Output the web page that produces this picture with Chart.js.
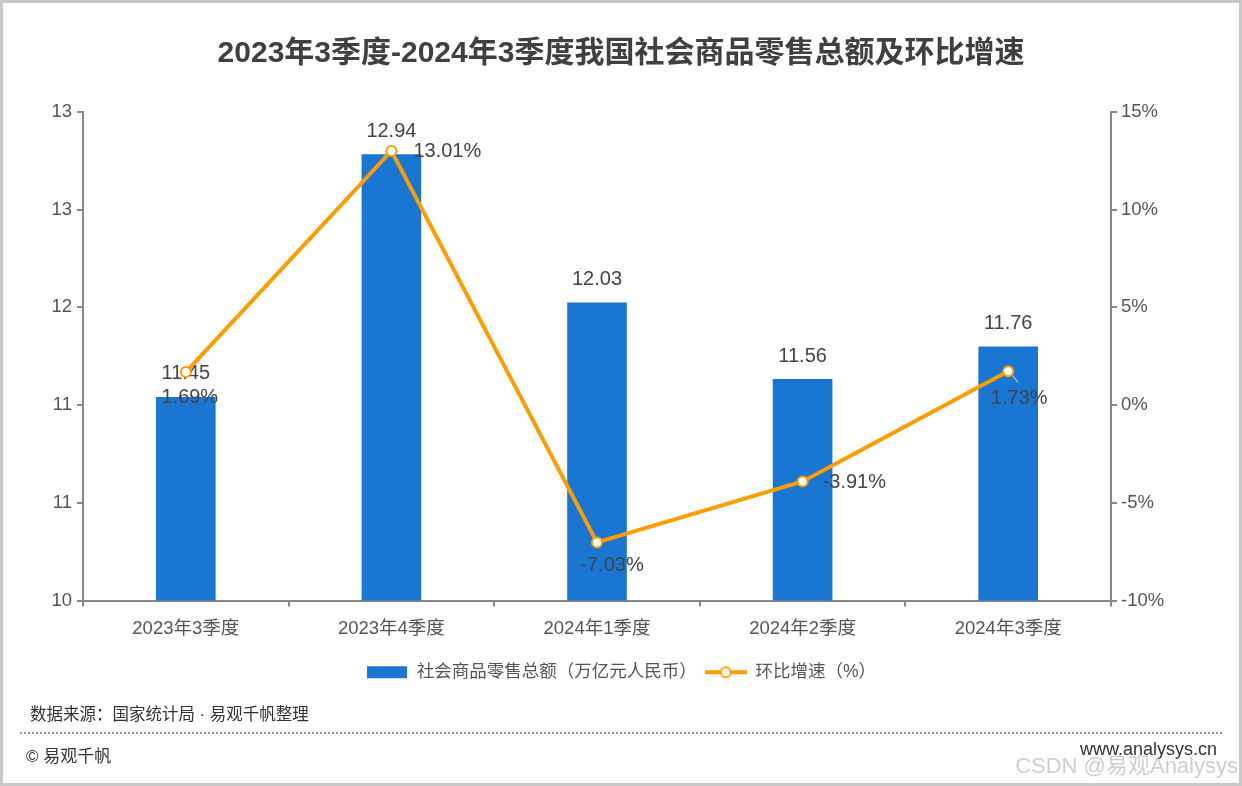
<!DOCTYPE html>
<html>
<head>
<meta charset="utf-8">
<script src="https://cdn.jsdelivr.net/npm/chart.js@4.4.1/dist/chart.umd.min.js"></script>
<style>
    html, body { margin: 0; padding: 0; background: #fff; }
    #wrap { position: relative; width: 1242px; height: 786px; overflow: hidden;
            font-family: "Liberation Sans", "Noto Sans CJK SC", sans-serif; }
    #frame { position: absolute; left: 0; top: 0; width: 1242px; height: 786px;
             box-sizing: border-box; border: 3px solid #c8c8c8; pointer-events: none; }
    canvas { position: absolute; left: 0; top: 0; }
    .note { position: absolute; color: #333; font-size: 16.5px; white-space: nowrap; }
    #dots { position: absolute; left: 20px; right: 20px; top: 732px; border-top: 2px dotted #999; }
    #mark { position: absolute; right: 4px; top: 747px; font-size: 22px; color: rgba(190,190,190,0.75); white-space: nowrap; }
</style>
</head>
<body>
<div id="wrap">
    <canvas id="retail-chart" width="1242" height="786"></canvas>
    <div class="note" style="left:30px; top:701px;">数据来源：国家统计局 · 易观千帆整理</div>
    <div id="dots"></div>
    <div class="note" style="left:26px; top:742px; font-size:17px;">© 易观千帆</div>
    <div class="note" style="right:25px; top:739px; font-size:18px;">www.analysys.cn</div>
    <div id="mark">CSDN @易观Analysys</div>
    <div id="frame"></div>
</div>
<script>
// Data
const quarters = ['2023年3季度', '2023年4季度', '2024年1季度', '2024年2季度', '2024年3季度'];
const retailTotals = [11.45, 12.94, 12.03, 11.56, 11.76];   // 万亿元人民币
const qoqGrowth = [1.69, 13.01, -7.03, -3.91, 1.73];        // %
const leftTickValues = [10.2, 10.8, 11.4, 12.0, 12.6, 13.2];
const leftTickLabels = ['10', '11', '11', '12', '13', '13'];

const BAR_COLOR = '#1976d2';
const LINE_COLOR = '#ff9c00';
const AXIS_COLOR = '#888888';
const FONT = '"Liberation Sans", "Noto Sans CJK SC", sans-serif';

// where each growth label sits relative to its point (style only)
const growthLabelPlacement = [
    { dx: 4, dy: 25, align: 'center' },
    { dx: 22, dy: 1, align: 'left' },
    { dx: 15, dy: 23, align: 'center' },
    { dx: 20, dy: 1, align: 'left' },
    { dx: 11, dy: 27, align: 'center', leader: true }
];

// Legend swatches drawn on small canvases
function makeSwatch(kind) {
    const c = document.createElement('canvas');
    c.width = 42; c.height = 14;
    const g = c.getContext('2d');
    if (kind === 'bar') {
        g.fillStyle = BAR_COLOR;
        g.fillRect(1, 1, 40, 12);
    } else {
        g.strokeStyle = LINE_COLOR;
        g.lineWidth = 4;
        g.beginPath(); g.moveTo(0, 7); g.lineTo(42, 7); g.stroke();
        g.fillStyle = '#fff';
        g.lineWidth = 2;
        g.beginPath(); g.arc(21, 7, 5, 0, Math.PI * 2); g.fill(); g.stroke();
    }
    return c;
}

const valueLabels = {
    id: 'valueLabels',
    afterDatasetDraw(chart, args) {
        // bar totals go under the line
        if (args.index !== 0) return;
        const ctx = chart.ctx;
        ctx.save();
        ctx.font = '20px ' + FONT;
        ctx.fillStyle = '#444';
        ctx.textAlign = 'center';
        ctx.textBaseline = 'middle';
        chart.getDatasetMeta(0).data.forEach((bar, i) => {
            ctx.fillText(retailTotals[i].toFixed(2), bar.x, bar.y - 23);
        });
        ctx.restore();
    },
    afterDatasetsDraw(chart) {
        const ctx = chart.ctx;
        ctx.save();
        ctx.font = '20px ' + FONT;
        ctx.fillStyle = '#444';
        ctx.textBaseline = 'middle';
        chart.getDatasetMeta(1).data.forEach((pt, i) => {
            const p = growthLabelPlacement[i];
            if (p.leader) {
                ctx.strokeStyle = '#aaa';
                ctx.lineWidth = 1.5;
                ctx.beginPath();
                ctx.moveTo(pt.x + 3, pt.y + 3);
                ctx.lineTo(pt.x + 10, pt.y + 11);
                ctx.stroke();
            }
            ctx.textAlign = p.align;
            ctx.fillText(qoqGrowth[i].toFixed(2) + '%', pt.x + p.dx, pt.y + p.dy);
        });
        ctx.restore();
    }
};

const ctx = document.getElementById('retail-chart').getContext('2d');

new Chart(ctx, {
    type: 'bar',
    data: {
        labels: quarters,
        datasets: [
            {
                label: '社会商品零售总额（万亿元人民币）',
                data: retailTotals,
                backgroundColor: BAR_COLOR,
                yAxisID: 'y',
                order: 2,
                barPercentage: 0.58,
                categoryPercentage: 0.5
            },
            {
                type: 'line',
                label: '环比增速（%）',
                data: qoqGrowth,
                borderColor: LINE_COLOR,
                backgroundColor: '#fff',
                borderWidth: 4,
                pointRadius: 5,
                pointBorderWidth: 2,
                pointBackgroundColor: '#fff',
                pointBorderColor: LINE_COLOR,
                tension: 0,
                yAxisID: 'y1',
                order: 1
            }
        ]
    },
    options: {
        responsive: false,
        animation: false,
        layout: { padding: { top: 0, left: 0, right: 0, bottom: 95 } },
        scales: {
            x: {
                grid: { display: true, drawOnChartArea: false, color: AXIS_COLOR, lineWidth: 2, tickLength: 6 },
                border: { color: AXIS_COLOR, width: 2 },
                ticks: { color: '#555', font: { size: 18.5, family: FONT }, padding: 11 },
                afterFit(scale) { scale.height = 55; }
            },
            y: {
                position: 'left',
                min: 10.2,
                max: 13.2,
                afterBuildTicks(scale) {
                    scale.ticks = leftTickValues.map(v => ({ value: v }));
                },
                grid: { display: true, drawOnChartArea: false, color: AXIS_COLOR, lineWidth: 2, tickLength: 6 },
                border: { color: AXIS_COLOR, width: 2 },
                ticks: {
                    color: '#555',
                    font: { size: 18.5, family: FONT },
                    padding: 5,
                    callback: (v, i) => leftTickLabels[i]
                },
                afterFit(scale) { scale.width = 83; }
            },
            y1: {
                position: 'right',
                min: -10,
                max: 15,
                grid: { display: true, drawOnChartArea: false, color: AXIS_COLOR, lineWidth: 2, tickLength: 6 },
                border: { color: AXIS_COLOR, width: 2 },
                ticks: {
                    stepSize: 5,
                    color: '#555',
                    font: { size: 18.5, family: FONT },
                    padding: 4,
                    callback: v => v + '%'
                },
                afterFit(scale) { scale.width = 131; }
            }
        },
        plugins: {
            title: {
                display: true,
                text: '2023年3季度-2024年3季度我国社会商品零售总额及环比增速',
                color: '#404040',
                font: { size: 30, weight: 'bold', family: FONT },
                padding: { top: 36, bottom: 40 }
            },
            legend: {
                display: true,
                position: 'bottom',
                labels: {
                    usePointStyle: true,
                    pointStyleWidth: 42,
                    boxHeight: 14,
                    color: '#555',
                    font: { size: 17.5, family: FONT },
                    padding: 8,
                    generateLabels(chart) {
                        return chart.data.datasets.map((ds, i) => ({
                            text: ds.label,
                            pointStyle: makeSwatch(i === 0 ? 'bar' : 'line'),
                            fontColor: '#555',
                            datasetIndex: i,
                            hidden: false,
                            lineWidth: 0
                        }));
                    }
                }
            },
            tooltip: { enabled: false }
        }
    },
    plugins: [valueLabels]
});
</script>
</body>
</html>
